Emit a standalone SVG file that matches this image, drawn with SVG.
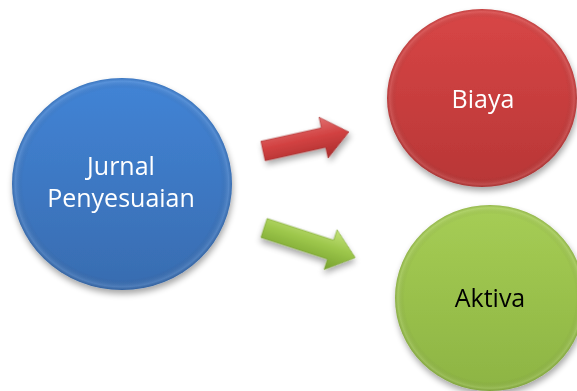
<svg xmlns="http://www.w3.org/2000/svg" width="577" height="391" viewBox="0 0 577 391">
  <defs>
    <linearGradient id="gBlue" x1="0" y1="0" x2="0" y2="1">
      <stop offset="0" stop-color="#4284d6"/>
      <stop offset="1" stop-color="#386cb0"/>
    </linearGradient>
    <linearGradient id="gRed" x1="0" y1="0" x2="0" y2="1">
      <stop offset="0" stop-color="#d84646"/>
      <stop offset="1" stop-color="#b83636"/>
    </linearGradient>
    <linearGradient id="gGreen" x1="0" y1="0" x2="0" y2="1">
      <stop offset="0" stop-color="#a6cd55"/>
      <stop offset="1" stop-color="#8db443"/>
    </linearGradient>
    <!-- soft bevel rim for the discs -->
    <radialGradient id="rim" cx="0.5" cy="0.5" r="0.5">
      <stop offset="0.9" stop-color="#000" stop-opacity="0"/>
      <stop offset="0.97" stop-color="#fff" stop-opacity="0.12"/>
      <stop offset="1" stop-color="#000" stop-opacity="0.1"/>
    </radialGradient>
    <linearGradient id="aRed" x1="0" y1="0" x2="0" y2="1">
      <stop offset="0" stop-color="#e07070"/>
      <stop offset="0.45" stop-color="#d24242"/>
      <stop offset="1" stop-color="#a82c2c"/>
    </linearGradient>
    <linearGradient id="aGreen" x1="0" y1="0" x2="0" y2="1">
      <stop offset="0" stop-color="#c4e27a"/>
      <stop offset="0.45" stop-color="#9cc64a"/>
      <stop offset="1" stop-color="#76a02e"/>
    </linearGradient>
    <filter id="shadow" x="-20%" y="-20%" width="140%" height="150%">
      <feGaussianBlur in="SourceAlpha" stdDeviation="3"/>
      <feOffset dx="1" dy="4" result="b"/>
      <feComponentTransfer><feFuncA type="linear" slope="0.35"/></feComponentTransfer>
      <feMerge><feMergeNode/><feMergeNode in="SourceGraphic"/></feMerge>
    </filter>
  </defs>
  <style>
    .lbl { font-family: "Open Sans", "Liberation Sans", sans-serif; font-size: 25px; text-anchor: middle; }
    .w { fill: #ffffff; }
    .k { fill: #000000; }
  </style>

  <rect width="577" height="391" fill="#ffffff"/>

  <g id="connectors">
    <!-- arrow toward Biaya -->
    <g transform="translate(263,151) rotate(-12.5)" filter="url(#shadow)">
      <path d="M0,-10 L62,-10 L62,-21 L88,0 L62,21 L62,10 L0,10 Z" fill="url(#aRed)" stroke="#a53030" stroke-width="0.6"/>
    </g>
    <!-- arrow toward Aktiva -->
    <g transform="translate(264,228) rotate(18)" filter="url(#shadow)">
      <path d="M0,-10 L70,-10 L70,-21 L96,0 L70,21 L70,10 L0,10 Z" fill="url(#aGreen)" stroke="#7aa232" stroke-width="0.6"/>
    </g>
  </g>

  <g id="jurnal-penyesuaian" filter="url(#shadow)">
    <ellipse cx="122" cy="184" rx="110" ry="106" fill="url(#gBlue)"/>
    <ellipse cx="122" cy="184" rx="110" ry="106" fill="url(#rim)"/>
    <text class="lbl w" x="121" y="175">Jurnal</text>
    <text class="lbl w" x="121" y="207">Penyesuaian</text>
  </g>

  <g id="biaya" filter="url(#shadow)">
    <ellipse cx="482" cy="98" rx="95" ry="89" fill="url(#gRed)"/>
    <ellipse cx="482" cy="98" rx="95" ry="89" fill="url(#rim)"/>
    <text class="lbl w" x="483" y="108">Biaya</text>
  </g>

  <g id="aktiva" filter="url(#shadow)">
    <ellipse cx="490" cy="298" rx="95" ry="93" fill="url(#gGreen)"/>
    <ellipse cx="490" cy="298" rx="95" ry="93" fill="url(#rim)"/>
    <text class="lbl k" x="490" y="307">Aktiva</text>
  </g>
</svg>
